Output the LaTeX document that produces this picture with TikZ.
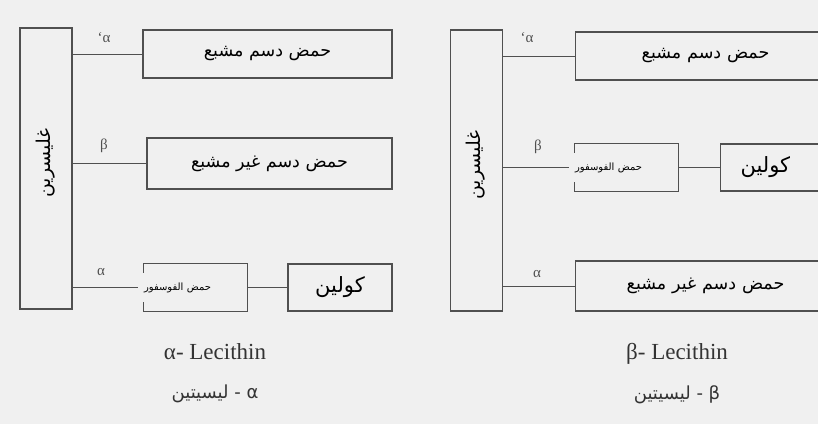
\documentclass[tikz,border=0pt]{standalone}
\usepackage{fontspec}
\setmainfont{Liberation Serif}
\newfontfamily\arabicfont[Script=Arabic]{DejaVu Sans}
\TeXXeTstate=1
\definecolor{bg}{HTML}{F0F0F0}
\definecolor{ln}{HTML}{505050}
\tikzset{
  box/.style={draw=ln,line width=1.1pt,inner sep=0pt,font=\arabicfont\fontsize{17.5}{19}\selectfont},
  obox/.style={inner sep=0pt,font=\arabicfont\fontsize{10}{11}\selectfont,text width=103pt,align=left},
  glybox/.style={draw=ln,line width=1.1pt,inner sep=0pt,minimum width=52pt,minimum height=281pt},
  gtext/.style={rotate=90,font=\arabicfont\fontsize{19}{20}\selectfont},
  conn/.style={draw=ln,line width=0.9pt},
  glab/.style={font=\fontsize{15}{16}\selectfont,text=ln},
  captext/.style={font=\fontsize{23}{25}\selectfont,text=black!80},
  acaptext/.style={font=\arabicfont\fontsize{18}{20}\selectfont,text=black!80}
}
\begin{document}
\begin{tikzpicture}[x=1pt,y=-1pt]
\useasboundingbox (0,0) rectangle (818,424);
\fill[bg] (0,0) rectangle (818,424);
\clip (0,0) rectangle (818,424);
% ---------- left: alpha lecithin ----------
\node[glybox] (gly1) at (46,168.5) {};
\node[gtext] (gly1t) at (46,163) {\beginR غليسرين\endR};
\node[box,minimum width=249pt,minimum height=48pt] (fa1) at (267.5,54) {\beginR حمض دسم مشبع\endR};
\node[box,minimum width=245pt,minimum height=51pt] (fa2) at (269.5,163.5) {\beginR حمض دسم غير مشبع\endR};
\node[obox,minimum height=47pt] (ph1) at (195.5,287.5) {\beginR حمض الفوسفور\endR};
\draw[ln,line width=1.1pt] ([yshift=-9pt]ph1.north west) -- (ph1.north west) -- (ph1.north east) -- (ph1.south east) -- (ph1.south west) -- ([yshift=9pt]ph1.south west);
\node[box,minimum width=104pt,minimum height=47pt,font=\arabicfont\fontsize{21}{22}\selectfont] (ch1) at (340,287.5) {\beginR كولين\endR};
\draw[conn] (gly1.east |- fa1.west) -- (fa1.west);
\draw[conn] (gly1.east |- fa2.west) -- (fa2.west);
\draw[conn] (gly1.east |- ph1.west) -- ([xshift=-6pt]ph1.west);
\draw[conn] (ph1.east) -- (ch1.west);
\node[glab] (l1a) at (104,38) {{\char"60}α};
\node[glab] (l1b) at (104,146) {β};
\node[glab] (l1c) at (101,272) {α};
\node[captext] (c1) at (215,352) {α- Lecithin};
\node[acaptext] (a1) at (215,394) {\beginR α - ليسيتين\endR};
% ---------- right: beta lecithin ----------
\node[glybox] (gly2) at (476.5,170.5) {};
\node[gtext] (gly2t) at (476,165) {\beginR غليسرين\endR};
\node[box,minimum width=260pt,minimum height=48pt,anchor=west,text width=208pt,align=center] (fa3) at (575,56) {\beginR حمض دسم مشبع\endR};
\node[obox,minimum height=47pt] (ph2) at (626.5,167.5) {\beginR حمض الفوسفور\endR};
\draw[ln,line width=1.1pt] ([yshift=-9pt]ph2.north west) -- (ph2.north west) -- (ph2.north east) -- (ph2.south east) -- (ph2.south west) -- ([yshift=9pt]ph2.south west);
\node[box,minimum width=110pt,minimum height=47pt,anchor=west,text width=110pt,align=left,font=\arabicfont\fontsize{21}{22}\selectfont] (ch2) at (720,167.5) {\hspace*{20pt}\beginR كولين\endR};
\node[box,minimum width=260pt,minimum height=50pt,anchor=west,text width=214pt,align=center] (fa4) at (575,286) {\beginR حمض دسم غير مشبع\endR};
\draw[conn] (gly2.east |- fa3.west) -- (fa3.west);
\draw[conn] (gly2.east |- ph2.west) -- ([xshift=-6pt]ph2.west);
\draw[conn] (ph2.east) -- (ch2.west);
\draw[conn] (gly2.east |- fa4.west) -- (fa4.west);
\node[glab] (l2a) at (527,38) {{\char"60}α};
\node[glab] (l2b) at (538,147) {β};
\node[glab] (l2c) at (537,274) {α};
\node[captext] (c2) at (677,354) {β- Lecithin};
\node[acaptext] (a2) at (677,395) {\beginR β - ليسيتين\endR};
\end{tikzpicture}
\end{document}
